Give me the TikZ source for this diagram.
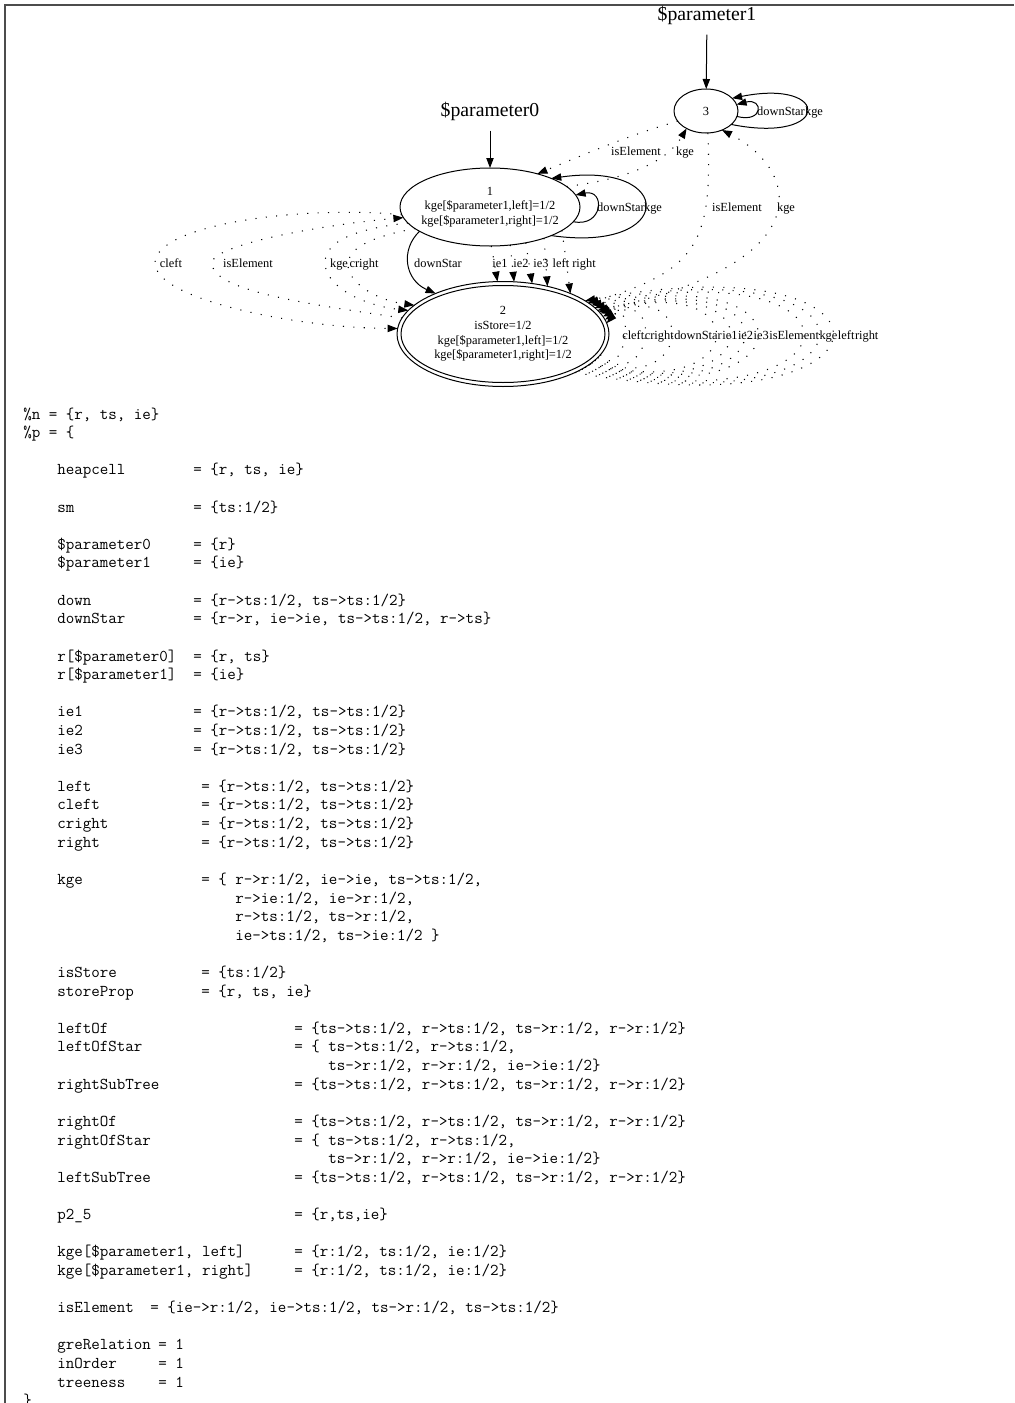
\documentclass[tikz,border=0pt]{standalone}
\usepackage{fontspec}
\setmainfont{Liberation Serif}
\usetikzlibrary{shapes.geometric,arrows.meta}
\begin{document}
\begin{tikzpicture}[x=0.75pt,y=-0.75pt,
  gnode/.style={ellipse, draw, line width=0.75pt, inner sep=0pt, outer sep=0pt},
  gtext/.style={font=\fontsize{9.3}{10.9}\selectfont, align=center, inner sep=0pt},
  elab/.style={font=\fontsize{9.3}{10}\selectfont, inner sep=0pt, anchor=base},
  plab/.style={font=\fontsize{14.8}{16}\selectfont, inner sep=0pt},
  sedge/.style={line width=0.75pt, -{Triangle[length=7.5pt,width=5.5pt]}},
  dedge/.style={line width=0.8pt, dash pattern=on 0.8pt off 7pt, -{Triangle[length=7.5pt,width=5.5pt]}},
  code/.style={font=\ttfamily\fontsize{12.4}{14}\selectfont, inner sep=0pt, anchor=base west},
]
\useasboundingbox (0,0) rectangle (1014,1403);
\draw[black!70, line width=1.2pt] (5,1403) -- (5,5) -- (1014,5);

% ---------- graph nodes ----------
\node[gnode, minimum width=48pt, minimum height=33pt] (n3) at (706,111) {};
\node[gtext] (t3) at (n3) {3};
\node[gnode, minimum width=135pt, minimum height=58.5pt] (n1) at (490,207) {};
\node[gtext] (t1) at (n1) {1\\kge[\$parameter1,left]=1/2\\kge[\$parameter1,right]=1/2};
\node[gnode, minimum width=159pt, minimum height=78.75pt] (n2) at (503,334) {};
\node[gnode, minimum width=153pt, minimum height=72.75pt] (n2i) at (n2) {};
\node[gtext] (t2) at (n2) {2\\isStore=1/2\\kge[\$parameter1,left]=1/2\\kge[\$parameter1,right]=1/2};

\node[plab] (p1) at (707,15) {\$parameter1};
\node[plab] (p0) at (490,111) {\$parameter0};
\draw[sedge, shorten <=7.5pt] (p1) -- (n3);
\draw[sedge, shorten <=7.5pt] (p0) -- (n1);

% ---------- self loops n3 ----------
\draw[sedge] (n3.-10) .. controls +(27,7) and +(27,-7) .. (n3.12);
\draw[sedge] (n3.-28) .. controls +(100,20) and +(100,-20) .. (n3.26);
\node[elab] (l3a) at (781,115) {downStar};
\node[elab] (l3b) at (814,115) {kge};

% ---------- self loops n1 ----------
\draw[sedge] (n1.-10) .. controls +(30,6) and +(30,-6) .. (n1.8);
\draw[sedge] (n1.-25) .. controls +(125,18) and +(125,-18) .. (n1.25);
\node[elab] (l1a) at (621,211) {downStar};
\node[elab] (l1b) at (653,211) {kge};

% ---------- n3 <-> n1 ----------
\draw[dedge] (n3.200) .. controls (635,133) and (590,152) .. (n1.35);
\node[elab] (l31) at (636,155) {isElement};
\draw[dedge] (n1.15) .. controls (620,180) and (665,165) .. (n3.-138);
\node[elab] (l13) at (685,155) {kge};

% ---------- n3 <-> n2 ----------
\draw[dedge] (n3.-85) .. controls (712,240) and (700,270) .. (n2.20);
\node[elab] (l32) at (737,211) {isElement};
\draw[dedge] (n2.14) .. controls (825,265) and (800,170) .. (n3.-50);
\node[elab] (l23) at (786,211) {kge};

% ---------- n1 -> n2 ----------
\draw[sedge] (n1.199) .. controls (400,250) and (405,280) .. (n2.149);
\node[elab] (lds) at (438,267) {downStar};
\draw[dedge] (n1.-88) -- (n2.96);
\draw[dedge] (n1.-62) -- (n2.78);
\draw[dedge] (n1.-45) -- (n2.60);
\draw[dedge] (n1.-30) -- (n2.47);
\draw[dedge] (n1.-18) -- (n2.31);
\node[elab] (lie1) at (500,267) {ie1};
\node[elab] (lie2) at (521,267) {ie2};
\node[elab] (lie3) at (541,267) {ie3};
\node[elab] (lleft) at (561,267) {left};
\node[elab] (lright) at (584,267) {right};

% ---------- left loops between n1 and n2 ----------
\draw[dedge] (n1.185) .. controls (300,205) and (155,225) .. (155,263) .. controls (155,300) and (300,328) .. (n2.177);
\node[elab] (lcl) at (171,267) {cleft};
\draw[dedge] (n2.171) .. controls (300,303) and (212,290) .. (212,263) .. controls (212,245) and (320,225) .. (n1.187);
\node[elab] (lis) at (248,267) {isElement};
\draw[dedge] (n1.191) .. controls (345,230) and (325,245) .. (325,263) .. controls (325,285) and (360,305) .. (n2.166);
\node[elab] (lkg) at (339,267) {kge};
\draw[dedge] (n1.196) .. controls (365,238) and (348,250) .. (348,265) .. controls (348,282) and (375,300) .. (n2.162);
\node[elab] (lcr) at (364,267) {cright};

% ---------- self loops n2 ----------
\foreach \s/\e/\d/\b in {-12/6/27/30, -14/8/57/34, -16/10/96/39, -18/12/159/45, -19/13/180/47, -20/14/201/50, -22/16/223/52, -24/18/288/59, -26/20/313/61, -28/22/336/63}
  \draw[dedge] (n2.\s) .. controls +(\d,\b) and +(\d,-\b) .. (n2.\e);
\node[elab, anchor=base west] (s1) at (622,339) {cleft};
\node[elab, anchor=base west] (s2) at (s1.base east) {cright};
\node[elab, anchor=base west] (s3) at (s2.base east) {downStar};
\node[elab, anchor=base west] (s4) at (s3.base east) {ie1};
\node[elab, anchor=base west] (s5) at (s4.base east) {ie2};
\node[elab, anchor=base west] (s6) at (s5.base east) {ie3};
\node[elab, anchor=base west] (s7) at (s6.base east) {isElement};
\node[elab, anchor=base west] (s8) at (s7.base east) {kge};
\node[elab, anchor=base west] (s9) at (s8.base east) {left};
\node[elab, anchor=base west] (s10) at (s9.base east) {right};

% ---------- text block ----------
\node[code] (c0) at (23,419) {\%n = \{r, ts, ie\}};
\node[code] (c1) at (23,437.6) {\%p = \{};
\node[code] (c3a) at (57,474.8) {heapcell};
\node[code] (c3b) at (193,474.8) {= \{r, ts, ie\}};
\node[code] (c5a) at (57,512.1) {sm};
\node[code] (c5b) at (193,512.1) {= \{ts:1/2\}};
\node[code] (c7a) at (57,549.3) {\$parameter0};
\node[code] (c7b) at (193,549.3) {= \{r\}};
\node[code] (c8a) at (57,567.9) {\$parameter1};
\node[code] (c8b) at (193,567.9) {= \{ie\}};
\node[code] (c10a) at (57,605.2) {down};
\node[code] (c10b) at (193,605.2) {= \{r->ts:1/2, ts->ts:1/2\}};
\node[code] (c11a) at (57,623.8) {downStar};
\node[code] (c11b) at (193,623.8) {= \{r->r, ie->ie, ts->ts:1/2, r->ts\}};
\node[code] (c13a) at (57,661) {r[\$parameter0]};
\node[code] (c13b) at (193,661) {= \{r, ts\}};
\node[code] (c14a) at (57,679.6) {r[\$parameter1]};
\node[code] (c14b) at (193,679.6) {= \{ie\}};
\node[code] (c16a) at (57,716.8) {ie1};
\node[code] (c16b) at (193,716.8) {= \{r->ts:1/2, ts->ts:1/2\}};
\node[code] (c17a) at (57,735.5) {ie2};
\node[code] (c17b) at (193,735.5) {= \{r->ts:1/2, ts->ts:1/2\}};
\node[code] (c18a) at (57,754.1) {ie3};
\node[code] (c18b) at (193,754.1) {= \{r->ts:1/2, ts->ts:1/2\}};
\node[code] (c20a) at (57,791.3) {left};
\node[code] (c20b) at (201,791.3) {= \{r->ts:1/2, ts->ts:1/2\}};
\node[code] (c21a) at (57,809.9) {cleft};
\node[code] (c21b) at (201,809.9) {= \{r->ts:1/2, ts->ts:1/2\}};
\node[code] (c22a) at (57,828.5) {cright};
\node[code] (c22b) at (201,828.5) {= \{r->ts:1/2, ts->ts:1/2\}};
\node[code] (c23a) at (57,847.1) {right};
\node[code] (c23b) at (201,847.1) {= \{r->ts:1/2, ts->ts:1/2\}};
\node[code] (c25a) at (57,884.4) {kge};
\node[code] (c25b) at (201,884.4) {= \{ r->r:1/2, ie->ie, ts->ts:1/2,};
\node[code] (c26) at (235,903) {r->ie:1/2, ie->r:1/2,};
\node[code] (c27) at (235,921.6) {r->ts:1/2, ts->r:1/2,};
\node[code] (c28) at (235,940.2) {ie->ts:1/2, ts->ie:1/2 \}};
\node[code] (c30a) at (57,977.5) {isStore};
\node[code] (c30b) at (201,977.5) {= \{ts:1/2\}};
\node[code] (c31a) at (57,996.1) {storeProp};
\node[code] (c31b) at (201,996.1) {= \{r, ts, ie\}};
\node[code] (c33a) at (57,1033.3) {leftOf};
\node[code] (c33b) at (294,1033.3) {= \{ts->ts:1/2, r->ts:1/2, ts->r:1/2, r->r:1/2\}};
\node[code] (c34a) at (57,1051.9) {leftOfStar};
\node[code] (c34b) at (294,1051.9) {= \{ ts->ts:1/2, r->ts:1/2,};
\node[code] (c35) at (328,1070.5) {ts->r:1/2, r->r:1/2, ie->ie:1/2\}};
\node[code] (c36a) at (57,1089.1) {rightSubTree};
\node[code] (c36b) at (294,1089.1) {= \{ts->ts:1/2, r->ts:1/2, ts->r:1/2, r->r:1/2\}};
\node[code] (c38a) at (57,1126.4) {rightOf};
\node[code] (c38b) at (294,1126.4) {= \{ts->ts:1/2, r->ts:1/2, ts->r:1/2, r->r:1/2\}};
\node[code] (c39a) at (57,1145) {rightOfStar};
\node[code] (c39b) at (294,1145) {= \{ ts->ts:1/2, r->ts:1/2,};
\node[code] (c40) at (328,1163.6) {ts->r:1/2, r->r:1/2, ie->ie:1/2\}};
\node[code] (c41a) at (57,1182.2) {leftSubTree};
\node[code] (c41b) at (294,1182.2) {= \{ts->ts:1/2, r->ts:1/2, ts->r:1/2, r->r:1/2\}};
\node[code] (c43a) at (57,1219.4) {p2\_5};
\node[code] (c43b) at (294,1219.4) {= \{r,ts,ie\}};
\node[code] (c45a) at (57,1256.7) {kge[\$parameter1, left]};
\node[code] (c45b) at (294,1256.7) {= \{r:1/2, ts:1/2, ie:1/2\}};
\node[code] (c46a) at (57,1275.3) {kge[\$parameter1, right]};
\node[code] (c46b) at (294,1275.3) {= \{r:1/2, ts:1/2, ie:1/2\}};
\node[code] (c48a) at (57,1312.5) {isElement};
\node[code] (c48b) at (150,1312.5) {= \{ie->r:1/2, ie->ts:1/2, ts->r:1/2, ts->ts:1/2\}};
\node[code] (c50a) at (57,1349.8) {greRelation};
\node[code] (c50b) at (158,1349.8) {= 1};
\node[code] (c51a) at (57,1368.4) {inOrder};
\node[code] (c51b) at (158,1368.4) {= 1};
\node[code] (c52a) at (57,1387) {treeness};
\node[code] (c52b) at (158,1387) {= 1};
\node[code] (c53) at (23,1405.6) {\}};
\end{tikzpicture}
\end{document}
